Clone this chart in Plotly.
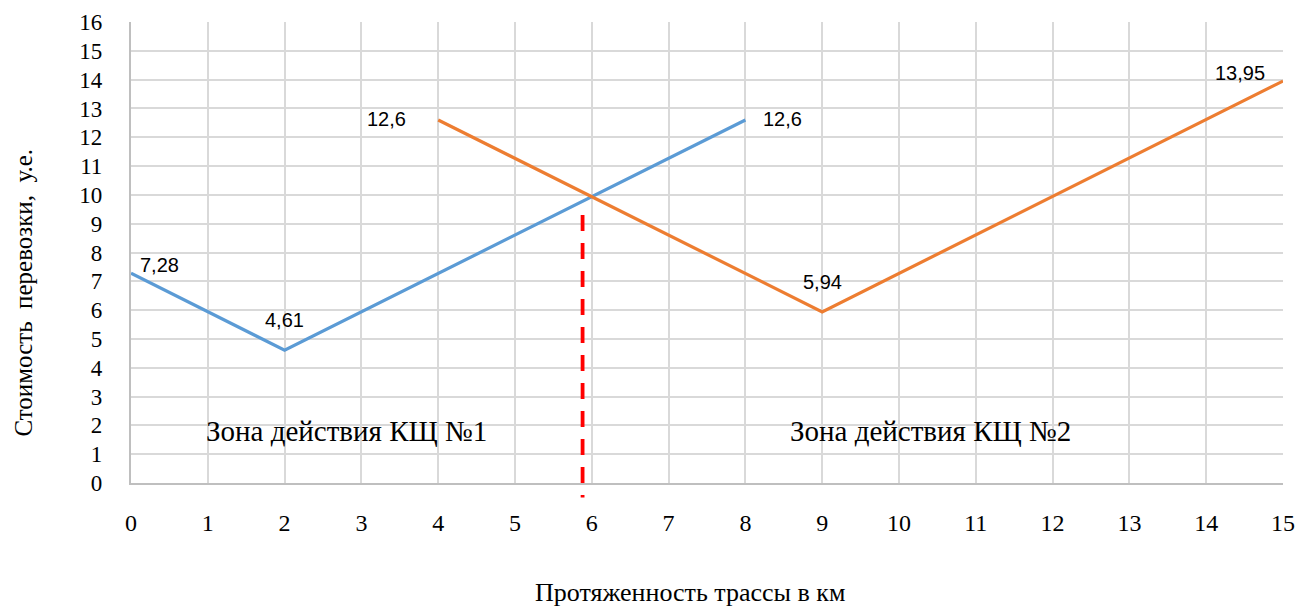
import plotly.graph_objects as go

# Transport cost along the route for two crushed-stone plants
km_plant1 = [0, 2, 8]
cost_plant1 = [7.28, 4.61, 12.6]
km_plant2 = [4, 9, 15]
cost_plant2 = [12.6, 5.94, 13.95]

# Boundary between the two service zones
boundary_km = 5.88
boundary_top = 9.3
boundary_bottom = -0.5

x_ticks = list(range(0, 16))
y_ticks = list(range(0, 17))

zone_labels = ["Зона действия КЩ №1", "Зона действия КЩ №2"]
zone_x = [2.80, 10.41]
zone_y = [1.82, 1.82]

BLUE = "#5B9BD5"
ORANGE = "#ED7D31"
SERIF = "Liberation Serif, Times New Roman, serif"
SANS = "Liberation Sans, Arial, sans-serif"

fig = go.Figure()
fig.add_trace(go.Scatter(x=km_plant1, y=cost_plant1, mode="lines",
                         line=dict(color=BLUE, width=3.2), showlegend=False,
                         hoverinfo="skip"))
fig.add_trace(go.Scatter(x=km_plant2, y=cost_plant2, mode="lines",
                         line=dict(color=ORANGE, width=3.2), showlegend=False,
                         hoverinfo="skip"))

y_span = 16.0
fig.add_shape(type="line", xref="x", yref="paper",
              x0=boundary_km, x1=boundary_km,
              y0=boundary_top / y_span, y1=boundary_bottom / y_span,
              line=dict(color="#FF0000", width=3.8, dash="16px,12px"),
              layer="above")


def fmt(v):
    return f"{v:g}".replace(".", ",")


# value labels: (x, y, xshift, yshift)
labels = [
    (km_plant1[0], cost_plant1[0], 28, 8),
    (km_plant1[1], cost_plant1[1], 0, 30),
    (km_plant1[2], cost_plant1[2], 37, 1),
    (km_plant2[0], cost_plant2[0], -52, 1),
    (km_plant2[1], cost_plant2[1], 0, 30),
    (km_plant2[2], cost_plant2[2], -43, 8),
]
for x, y, dx, dy in labels:
    fig.add_annotation(x=x, y=y, text=fmt(y), showarrow=False,
                       xshift=dx, yshift=dy,
                       font=dict(family=SANS, size=20, color="#000000"))

for t, zx, zy in zip(zone_labels, zone_x, zone_y):
    fig.add_annotation(x=zx, y=zy, text=t, showarrow=False,
                       font=dict(family=SERIF, size=29, color="#000000"))

# axis titles
PW = 1283 - 131
PH = 483.3 - 22.5
fig.add_annotation(xref="paper", yref="paper", x=(690 - 131) / PW,
                   y=-(593 - 483.3) / PH, xanchor="center", yanchor="middle",
                   text="Протяженность трассы в км", showarrow=False,
                   font=dict(family=SERIF, size=26, color="#000000"))
fig.add_annotation(xref="paper", yref="paper", x=-(131 - 24) / PW,
                   y=(483.3 - 293) / PH, xanchor="center", yanchor="middle",
                   text="Стоимость  перевозки,  у.е.", showarrow=False,
                   textangle=-90,
                   font=dict(family=SERIF, size=25, color="#000000"))

fig.update_xaxes(range=[0, 15], tickvals=x_ticks, ticktext=[str(v) for v in x_ticks],
                 showgrid=True, gridcolor="#D9D9D9", gridwidth=1.5,
                 showline=True, linecolor="#BFBFBF", linewidth=2.2,
                 zeroline=False, ticks="", ticklabelstandoff=17, automargin=False,
                 tickfont=dict(family=SERIF, size=24, color="#000000"))
fig.update_yaxes(range=[0, 16], tickvals=y_ticks, ticktext=[str(v) for v in y_ticks],
                 showgrid=True, gridcolor="#D9D9D9", gridwidth=1.5,
                 showline=True, linecolor="#BFBFBF", linewidth=2.2,
                 zeroline=False, ticks="", ticklabelstandoff=22, automargin=False,
                 tickfont=dict(family=SERIF, size=23, color="#000000"))

fig.update_layout(width=1298, height=606,
                  margin=dict(l=131, r=15, t=22, b=123, autoexpand=False),
                  plot_bgcolor="#FFFFFF", paper_bgcolor="#FFFFFF",
                  showlegend=False)

fig.write_html("out.html")
